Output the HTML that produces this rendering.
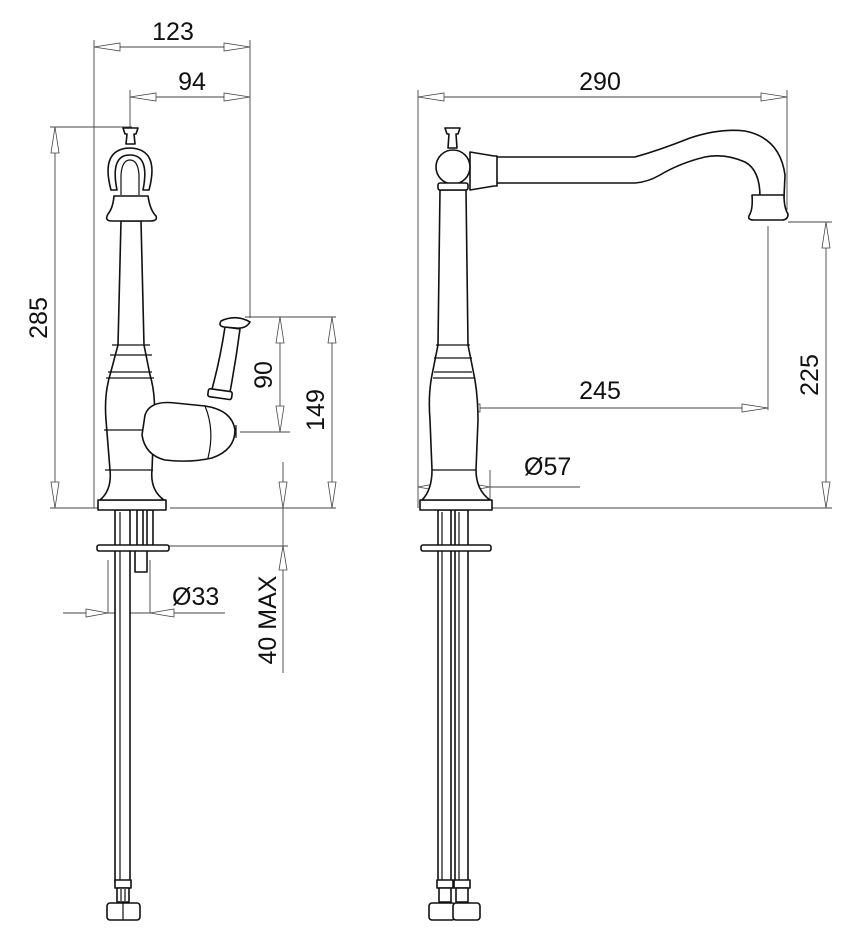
<!DOCTYPE html>
<html><head><meta charset="utf-8"><style>
html,body{margin:0;padding:0;background:#fff;width:868px;height:950px;overflow:hidden}
svg{display:block}
text{font-family:"Liberation Sans",Arial,sans-serif;font-size:25px;fill:#111}
.d{stroke:#444;stroke-width:0.9;fill:none}
.o{stroke:#111;stroke-width:1.6;fill:#fff;stroke-linejoin:round}
.t{stroke:#111;stroke-width:1.2;fill:none}
.a{fill:#fff;stroke:#444;stroke-width:0.8}
</style></head><body>
<svg width="868" height="950" viewBox="0 0 868 950" xmlns="http://www.w3.org/2000/svg">
<!-- ===== LEFT VIEW dimensions ===== -->
<line class="d" x1="94" y1="40" x2="94" y2="508"/>
<line class="d" x1="250" y1="40" x2="250" y2="318"/>
<line class="d" x1="130" y1="90" x2="130" y2="128"/>
<line class="d" x1="94" y1="47" x2="250" y2="47"/>
<polygon class="a" points="94,47 120,43 120,51"/><polygon class="a" points="250,47 224,43 224,51"/>
<text x="173" y="40" text-anchor="middle">123</text>
<line class="d" x1="130" y1="97" x2="250" y2="97"/>
<polygon class="a" points="130,97 156,93 156,101"/><polygon class="a" points="250,97 224,93 224,101"/>
<text x="192" y="90" text-anchor="middle">94</text>
<!-- 285 -->
<line class="d" x1="50" y1="127" x2="132" y2="127"/>
<line class="d" x1="50" y1="508" x2="100" y2="508"/>
<line class="d" x1="170" y1="508" x2="336" y2="508"/>
<line class="d" x1="55" y1="127" x2="55" y2="508"/>
<polygon class="a" points="55,127 51,153 59,153"/><polygon class="a" points="55,508 51,482 59,482"/>
<text transform="translate(47,318) rotate(-90)" text-anchor="middle">285</text>
<!-- 90 / 149 -->
<line class="d" x1="245" y1="317" x2="336" y2="317"/>
<line class="d" x1="240" y1="432" x2="290" y2="432"/>
<line class="d" x1="280" y1="317" x2="280" y2="432"/>
<polygon class="a" points="280,317 276,343 284,343"/><polygon class="a" points="280,432 276,406 284,406"/>
<text transform="translate(272,375) rotate(-90)" text-anchor="middle">90</text>
<line class="d" x1="332" y1="317" x2="332" y2="508"/>
<polygon class="a" points="332,317 328,343 336,343"/><polygon class="a" points="332,508 328,482 336,482"/>
<text transform="translate(324,410) rotate(-90)" text-anchor="middle">149</text>
<!-- 40 MAX -->
<line class="d" x1="283" y1="462" x2="283" y2="673"/>
<polygon class="a" points="283,508 279,482 287,482"/>
<polygon class="a" points="283,546 279,570 287,570"/>
<line class="d" x1="165" y1="546" x2="288" y2="546"/>
<text transform="translate(276,620) rotate(-90)" text-anchor="middle">40 MAX</text>
<!-- Ø33 -->
<line class="d" x1="63" y1="613" x2="225" y2="613"/>
<line class="d" x1="108" y1="560" x2="108" y2="613"/>
<line class="d" x1="150" y1="560" x2="150" y2="613"/>
<polygon class="a" points="108,613 86,609 86,617"/><polygon class="a" points="150,613 174,609 174,617"/>
<text x="172" y="605">Ø33</text>

<!-- ===== LEFT FAUCET ===== -->
<rect class="o" x="115" y="510" width="15" height="372"/>
<line class="t" x1="120" y1="512" x2="120" y2="880"/>
<rect class="o" x="115" y="880" width="16" height="8"/>
<rect class="o" x="117" y="888" width="12" height="14"/>
<line class="t" x1="121" y1="889" x2="121" y2="901"/><line class="t" x1="125" y1="889" x2="125" y2="901"/>
<rect class="o" x="107" y="903" width="33" height="17" rx="3"/>
<line class="t" x1="123" y1="903" x2="123" y2="920"/>
<rect class="o" x="137" y="510" width="6" height="36"/>
<rect class="o" x="147" y="510" width="6" height="36"/>
<rect class="o" x="135" y="550" width="12" height="22"/>
<rect class="o" x="97" y="545" width="72" height="6" rx="2"/>
<rect class="o" x="98" y="500" width="68" height="10"/>
<path class="o" d="M100,500 Q112,490 110,470 L106,420 Q104,395 110,375 L118,345 L121,221 L141,221 L144,345 L150,375 Q156,395 154,420 L152,470 Q150,490 164,500 Z"/>
<line class="t" x1="112" y1="345" x2="150" y2="345"/>
<line class="t" x1="110" y1="355" x2="152" y2="355"/>
<line class="t" x1="108" y1="372" x2="152" y2="372"/>
<line class="t" x1="106" y1="378" x2="154" y2="378"/>
<line class="t" x1="104" y1="430" x2="156" y2="430"/>
<line class="t" x1="105" y1="470" x2="153" y2="470"/>
<!-- collar -->
<path class="o" d="M114,196 L148,196 Q150,210 156,216 Q158,221 150,221 L112,221 Q104,221 108,214 Q113,208 114,196 Z"/>
<!-- loop -->
<path class="o" d="M111,190 Q100,149 130,148 Q160,149 149,190 L143,190 Q150,155 130,155 Q110,155 117,190 Z"/>
<path class="t" d="M121,195 L121,175 Q122,160 130,160 Q138,160 139,175 L139,195"/>
<!-- knob -->
<path class="o" d="M123,128 L138,128 L136,134 L134,134 L135,144 L126,144 L127,134 L125,134 Z"/>
<!-- handle ball -->
<path class="o" d="M145,415 Q150,400 175,403 L205,406 Q232,410 235,430 Q235,450 212,458 Q190,463 165,460 Q145,455 142,435 Z"/>
<path class="t" d="M205,406 Q215,430 208,458"/>
<line class="t" x1="236" y1="425" x2="236" y2="438"/>
<!-- lever -->
<path class="o" d="M225,327 L240,329 Q236,360 230,392 L212,389 Q220,360 225,327 Z"/>
<path class="o" d="M221,321 Q236,314 250,322 Q246,329 236,328 L224,327 Q218,326 221,321 Z"/>
<rect class="o" x="208" y="390" width="24" height="8" rx="2" transform="rotate(8 219 394)"/>

<!-- ===== RIGHT VIEW dimensions ===== -->
<line class="d" x1="418" y1="90" x2="418" y2="508"/>
<line class="d" x1="787" y1="90" x2="787" y2="210"/>
<line class="d" x1="418" y1="97" x2="787" y2="97"/>
<polygon class="a" points="418,97 444,93 444,101"/><polygon class="a" points="787,97 761,93 761,101"/>
<text x="600" y="90" text-anchor="middle">290</text>
<line class="d" x1="788" y1="222" x2="832" y2="222"/>
<line class="d" x1="492" y1="508" x2="832" y2="508"/>
<line class="d" x1="826" y1="222" x2="826" y2="508"/>
<polygon class="a" points="826,222 822,248 830,248"/><polygon class="a" points="826,508 822,482 830,482"/>
<text transform="translate(818,375) rotate(-90)" text-anchor="middle">225</text>
<line class="d" x1="768" y1="226" x2="768" y2="410"/>
<line class="d" x1="454" y1="405" x2="454" y2="492"/>
<line class="d" x1="454" y1="408" x2="768" y2="408"/>
<polygon class="a" points="454,408 480,404 480,412"/><polygon class="a" points="768,408 742,404 742,412"/>
<text x="600" y="399" text-anchor="middle">245</text>
<line class="d" x1="418" y1="487" x2="580" y2="487"/>
<line class="d" x1="490" y1="470" x2="490" y2="505"/>
<polygon class="a" points="418,487 440,483 440,491"/><polygon class="a" points="490,487 468,483 468,491"/>
<text x="524" y="475">Ø57</text>

<!-- ===== RIGHT FAUCET ===== -->
<rect class="o" x="438" y="510" width="13" height="372"/>
<rect class="o" x="455" y="510" width="13" height="372"/>
<line class="t" x1="442" y1="512" x2="442" y2="880"/><line class="t" x1="459" y1="512" x2="459" y2="880"/>
<rect class="o" x="437" y="880" width="16" height="8"/><rect class="o" x="454" y="880" width="16" height="8"/>
<rect class="o" x="439" y="888" width="12" height="14"/><rect class="o" x="456" y="888" width="12" height="14"/>
<rect class="o" x="429" y="903" width="26" height="17" rx="3"/>
<rect class="o" x="453" y="903" width="27" height="17" rx="3"/>
<rect class="o" x="421" y="545" width="70" height="6" rx="2"/>
<rect class="o" x="420" y="500" width="72" height="10"/>
<path class="o" d="M495,157 L635,157 Q660,150 690,138 Q720,128 745,131 Q780,138 785,175 L784,197 L760,197 Q760,170 745,162 Q725,153 705,157 Q680,163 660,175 Q648,182 635,183 L495,183 Z"/>
<path class="o" d="M752,195 L784,195 Q784,208 788,214 Q788,220 782,220 L754,220 Q746,220 750,214 Q753,208 752,195 Z"/>
<path class="o" d="M470,152 L494,156 L497,156 L497,186 L494,186 L470,190 Z"/>
<path class="o" d="M422,500 Q432,490 432,470 L430,420 Q428,395 432,375 L438,345 L440,190 L466,190 L468,345 L474,375 Q478,395 478,420 L476,470 Q476,490 490,500 Z"/>
<line class="t" x1="436" y1="345" x2="470" y2="345"/>
<line class="t" x1="434" y1="358" x2="472" y2="358"/>
<line class="t" x1="434" y1="372" x2="472" y2="372"/>
<line class="t" x1="433" y1="378" x2="474" y2="378"/>
<line class="t" x1="432" y1="470" x2="476" y2="470"/>
<circle class="o" cx="453" cy="167" r="17"/>
<rect class="o" x="438" y="183" width="30" height="7" rx="2"/>
<path class="o" d="M445,128 L460,128 L458,134 L456,134 L457,148 L448,148 L449,134 L447,134 Z"/>
</svg>
</body></html>
